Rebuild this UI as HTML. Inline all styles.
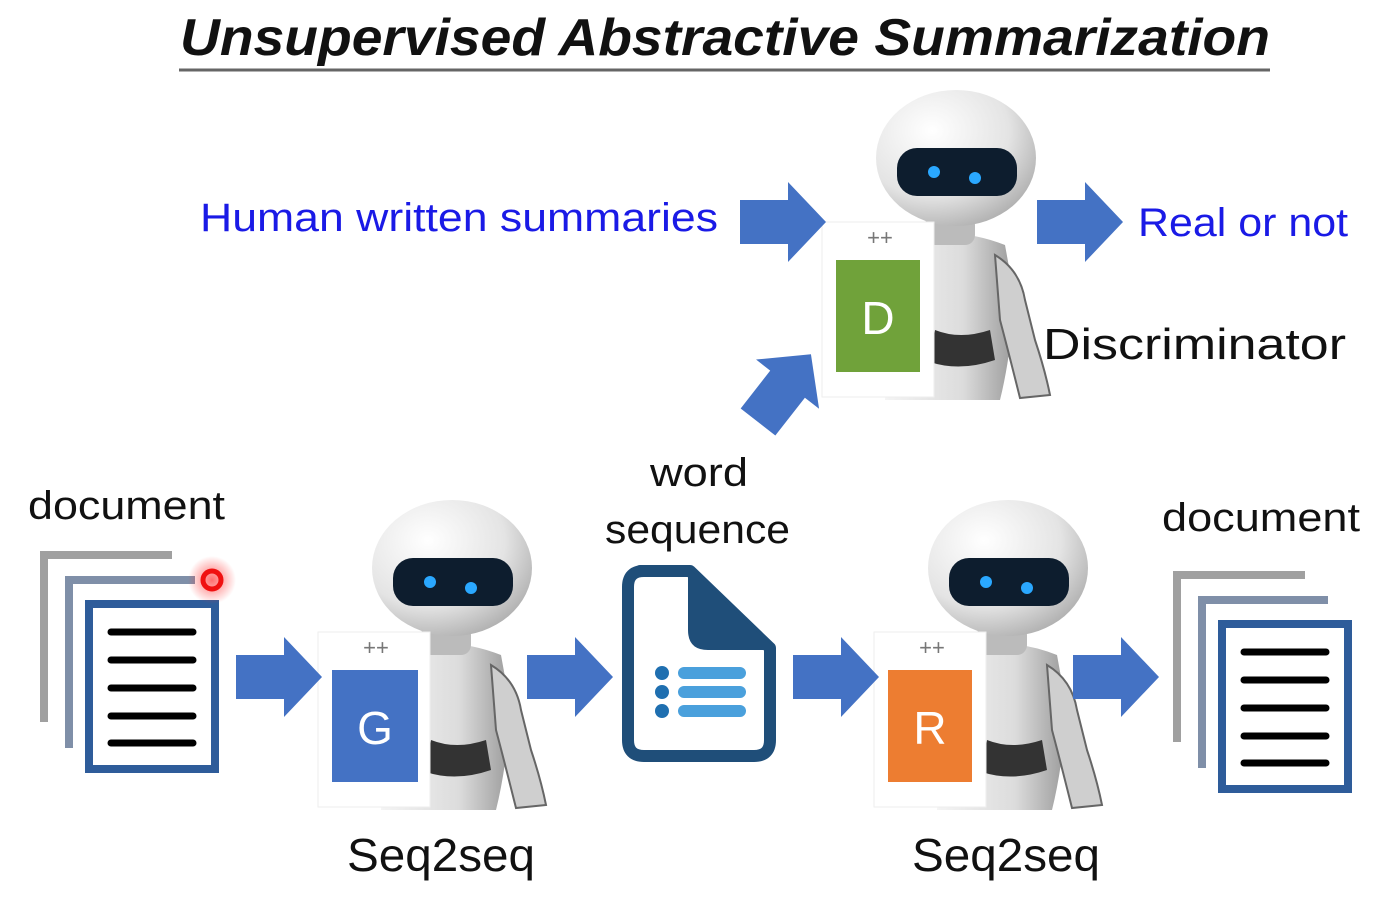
<!DOCTYPE html>
<html><head><meta charset="utf-8"><style>
html,body{margin:0;padding:0;background:#fff;}
svg{display:block;}
text{font-family:"Liberation Sans","DejaVu Sans",sans-serif;}
</style></head><body>
<svg width="1387" height="899" viewBox="0 0 1387 899" xmlns="http://www.w3.org/2000/svg">
<defs>
<radialGradient id="head" cx="0.35" cy="0.3" r="0.8">
<stop offset="0" stop-color="#ffffff"/><stop offset="0.6" stop-color="#e4e4e4"/><stop offset="1" stop-color="#a8a8a8"/>
</radialGradient>
<linearGradient id="body" x1="0" x2="1">
<stop offset="0" stop-color="#f4f4f4"/><stop offset="0.6" stop-color="#dcdcdc"/><stop offset="1" stop-color="#9a9a9a"/>
</linearGradient>
<radialGradient id="glow"><stop offset="0" stop-color="#ff3030" stop-opacity="0.7"/><stop offset="1" stop-color="#ff3030" stop-opacity="0"/></radialGradient>
<g id="robot">
<path d="M905 240 Q955 225 1005 245 L1015 300 Q1010 360 1000 400 L885 400 Q890 330 900 290 Z" fill="url(#body)"/>
<path d="M995 255 Q1020 270 1025 300 L1035 340 Q1045 370 1050 395 L1020 398 Q1008 350 1000 320 Z" fill="#cfcfcf" stroke="#666" stroke-width="2"/>
<path d="M935 330 Q960 340 990 330 L995 360 Q960 372 930 362 Z" fill="#333"/>
<rect x="925" y="215" width="50" height="30" rx="10" fill="#bbb"/>
<ellipse cx="956" cy="158" rx="80" ry="68" fill="url(#head)"/>
<rect x="897" y="148" width="120" height="48" rx="20" fill="#0d1d2e"/>
<circle cx="934" cy="172" r="6" fill="#2aa8ff"/>
<circle cx="975" cy="178" r="6" fill="#2aa8ff"/>
<rect x="822" y="222" width="112" height="175" fill="#fff" stroke="#eee"/>
<text x="880" y="245" font-size="22" fill="#777" text-anchor="middle">++</text>
</g>
<g id="doc">
<path d="M172 555 H44 V722" fill="none" stroke="#a0a0a0" stroke-width="8"/>
<path d="M195 580 H69 V748" fill="none" stroke="#7f8fa8" stroke-width="8"/>
<rect x="89" y="604" width="126" height="165" fill="#fff" stroke="#2e5c9a" stroke-width="8"/>
<g stroke="#000" stroke-width="7" stroke-linecap="round">
<line x1="111" y1="632" x2="193" y2="632"/><line x1="111" y1="660" x2="193" y2="660"/>
<line x1="111" y1="688" x2="193" y2="688"/><line x1="111" y1="716" x2="193" y2="716"/>
<line x1="111" y1="743" x2="193" y2="743"/></g>
</g>
<path id="arr" d="M0 -22 H48 V-40 L86 0 L48 40 V22 H0 Z" fill="#4472c4"/>
</defs>

<text x="180" y="55" font-size="52" font-weight="bold" font-style="italic" fill="#111" textLength="1090" lengthAdjust="spacingAndGlyphs">Unsupervised Abstractive Summarization</text>
<line x1="179" y1="70" x2="1270" y2="70" stroke="#666" stroke-width="3"/>

<use href="#robot"/>
<rect x="836" y="260" width="84" height="112" fill="#70a23a"/>
<text x="878" y="334" font-size="46" fill="#fff" text-anchor="middle">D</text>

<use href="#robot" transform="translate(-504 410)"/>
<rect x="332" y="670" width="86" height="112" fill="#4472c4"/>
<text x="375" y="744" font-size="46" fill="#fff" text-anchor="middle">G</text>

<use href="#robot" transform="translate(52 410)"/>
<rect x="888" y="670" width="84" height="112" fill="#ed7d31"/>
<text x="930" y="744" font-size="46" fill="#fff" text-anchor="middle">R</text>

<use href="#arr" transform="translate(740 222)"/>
<use href="#arr" transform="translate(1037 222)"/>
<use href="#arr" transform="translate(758 422) rotate(-52)"/>
<use href="#arr" transform="translate(236 677)"/>
<use href="#arr" transform="translate(527 677)"/>
<use href="#arr" transform="translate(793 677)"/>
<use href="#arr" transform="translate(1073 677)"/>

<text x="200" y="231" font-size="40" fill="#1a1ae6" textLength="518" lengthAdjust="spacingAndGlyphs">Human written summaries</text>
<text x="1138" y="236" font-size="40" fill="#1a1ae6" textLength="210" lengthAdjust="spacingAndGlyphs">Real or not</text>
<text x="1043" y="359" font-size="44" fill="#111" textLength="303" lengthAdjust="spacingAndGlyphs">Discriminator</text>
<text x="28" y="519" font-size="40" fill="#111" textLength="197" lengthAdjust="spacingAndGlyphs">document</text>
<text x="1162" y="531" font-size="40" fill="#111" textLength="198" lengthAdjust="spacingAndGlyphs">document</text>
<text x="650" y="486" font-size="40" fill="#111" textLength="98" lengthAdjust="spacingAndGlyphs">word</text>
<text x="605" y="543" font-size="40" fill="#111" textLength="185" lengthAdjust="spacingAndGlyphs">sequence</text>
<text x="347" y="871" font-size="46" fill="#111" textLength="188" lengthAdjust="spacingAndGlyphs">Seq2seq</text>
<text x="912" y="871" font-size="46" fill="#111" textLength="188" lengthAdjust="spacingAndGlyphs">Seq2seq</text>

<use href="#doc"/>
<circle cx="212" cy="580" r="24" fill="url(#glow)"/>
<circle cx="212" cy="580" r="9" fill="none" stroke="#f01010" stroke-width="5"/>
<use href="#doc" transform="translate(1133 20)"/>

<path d="M640 571 H690 L770 648 V740 Q770 756 754 756 H644 Q628 756 628 740 V587 Q628 571 644 571 Z" fill="#fff" stroke="#1f4e79" stroke-width="12" stroke-linejoin="round"/>
<path d="M688 567 L776 650 H708 Q688 650 688 630 Z" fill="#1f4e79"/>
<g fill="#1f6fb0"><circle cx="662" cy="673" r="7"/><circle cx="662" cy="692" r="7"/><circle cx="662" cy="711" r="7"/></g>
<g stroke="#4aa0dc" stroke-width="12" stroke-linecap="round">
<line x1="684" y1="673" x2="740" y2="673"/><line x1="684" y1="692" x2="740" y2="692"/><line x1="684" y1="711" x2="740" y2="711"/></g>
</svg>
</body></html>
